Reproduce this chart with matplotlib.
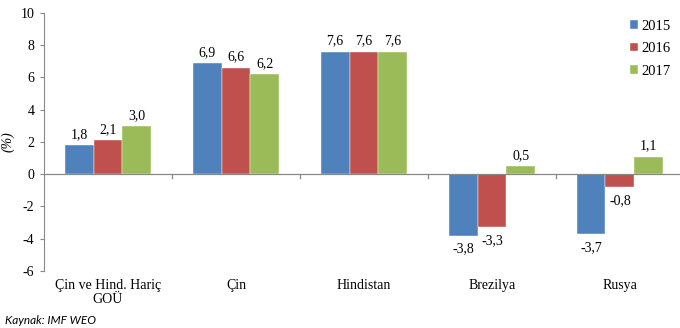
import matplotlib.pyplot as plt
import numpy as np

# Growth forecasts (%) by region and year
categories = ["Çin ve Hind. Hariç\nGOÜ", "Çin", "Hindistan", "Brezilya", "Rusya"]
years = ["2015", "2016", "2017"]
g2015 = [1.8, 6.9, 7.6, -3.8, -3.7]
g2016 = [2.1, 6.6, 7.6, -3.3, -0.8]
g2017 = [3.0, 6.2, 7.6, 0.5, 1.1]
yticks = [-6, -4, -2, 0, 2, 4, 6, 8, 10]

colors = ["#4F81BD", "#C0504D", "#9BBB59"]
serif = "Liberation Serif"
fs = 10

fig = plt.figure(figsize=(6.8, 3.28), dpi=100)
ax = fig.add_axes([0.0647, 0.1738, 0.941, 0.7866])

x = np.arange(len(categories))
width = 0.225
series = [g2015, g2016, g2017]
for i, (vals, col, yr) in enumerate(zip(series, colors, years)):
    pos = x + (i - 1) * width
    bars = ax.bar(pos, vals, width, color=col, label=yr, zorder=2,
                  edgecolor="white", linewidth=0.3)
    for b, v in zip(bars, vals):
        txt = f"{v:.1f}".replace(".", ",")
        if v >= 0:
            ax.annotate(txt, (b.get_x() + b.get_width() / 2, v),
                        xytext=(0, 3), textcoords="offset points",
                        ha="center", va="bottom", fontsize=fs, family=serif)
        else:
            ax.annotate(txt, (b.get_x() + b.get_width() / 2, v),
                        xytext=(0, -5), textcoords="offset points",
                        ha="center", va="top", fontsize=fs, family=serif)

ax.set_xlim(-0.5, len(categories) - 0.5)
ax.set_ylim(-6, 10)
ax.set_yticks(yticks)
ax.set_yticklabels([str(t) for t in yticks], family=serif, fontsize=fs)
ax.tick_params(axis="y", length=3, color="#888888", pad=4)

# zero line with category separator ticks
ax.axhline(0, color="#888888", linewidth=0.9, zorder=3)
for sep in x[1:] - 0.5:
    ax.plot([sep, sep], [0, -0.25], color="#888888", linewidth=0.9, zorder=3)
ax.set_xticks([])

for s in ["top", "right", "bottom"]:
    ax.spines[s].set_visible(False)
ax.spines["left"].set_color("#888888")

for xi, name in zip(x, categories):
    ax.text(xi, -6.5, name, ha="center", va="top", fontsize=fs,
            family=serif, linespacing=1.05)

ax.set_ylabel("(%)", family=serif, style="italic", fontsize=fs, labelpad=4)

leg = ax.legend(loc="upper right", bbox_to_anchor=(1.0, 1.025), frameon=False,
                prop={"family": serif, "size": 10.5}, handlelength=0.55,
                handleheight=0.55, handletextpad=0.25, labelspacing=0.65)

fig.text(0.007, 0.012, "Kaynak: IMF WEO", style="italic", fontsize=8.5,
         family="Lato")

fig.savefig("out.png", dpi=100)
